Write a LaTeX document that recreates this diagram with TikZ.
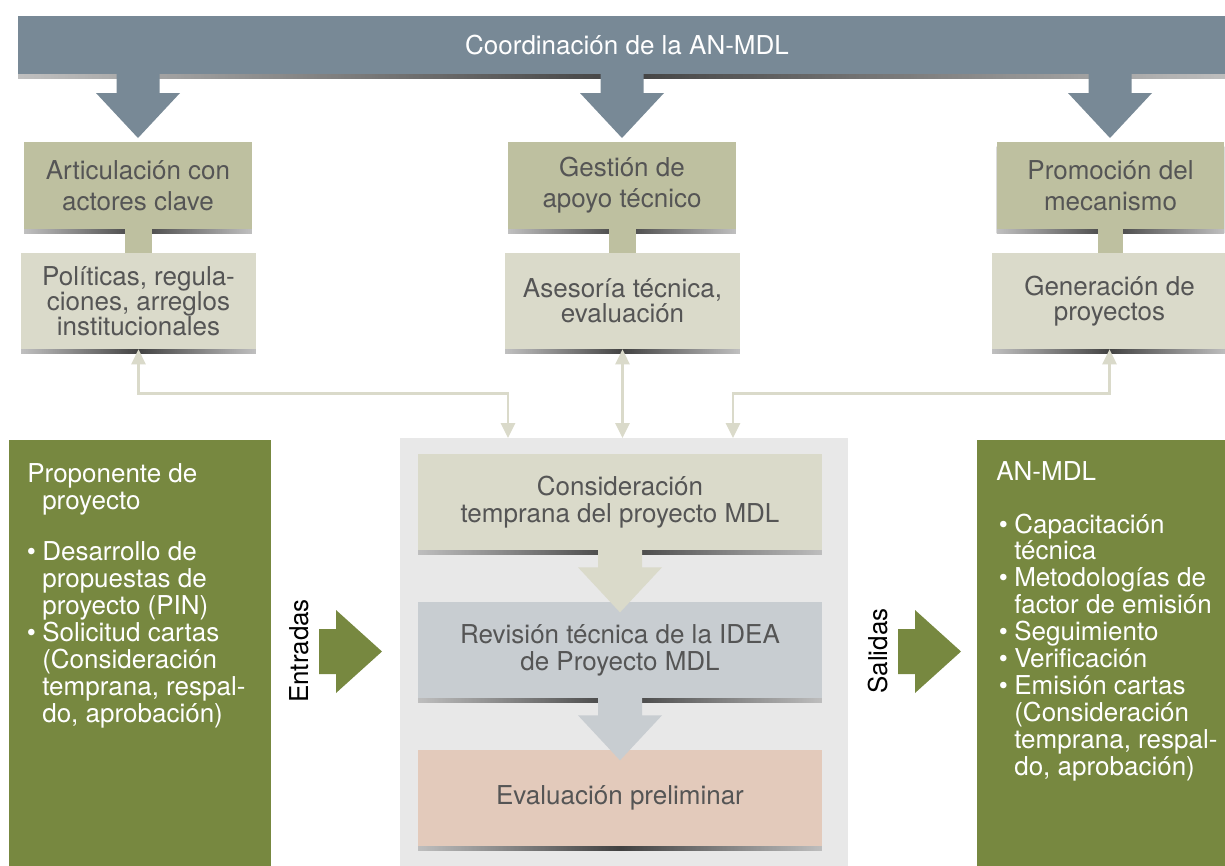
\documentclass[tikz,border=0pt]{standalone}
\usepackage{fontspec}
\setmainfont{TeX Gyre Heros}
\usepackage{xcolor}
\usetikzlibrary{positioning,calc,shadows,arrows.meta}
\definecolor{bannerc}{RGB}{120,137,150}
\definecolor{khaki}{RGB}{190,192,160}
\definecolor{pale}{RGB}{218,218,202}
\definecolor{panelbg}{RGB}{232,232,232}
\definecolor{review}{RGB}{200,205,209}
\definecolor{prelim}{RGB}{227,202,187}
\definecolor{olivec}{RGB}{119,136,64}
\definecolor{ink}{RGB}{85,85,85}
\newcommand{\dotitem}{\makebox[8.8pt][l]{\textbullet}}
\newcommand{\dotpad}{\hspace*{8.8pt}}

\begin{document}
\begin{tikzpicture}[
    x=0.02cm, y=-0.02cm,
    txt/.style={font=\fontsize{14.8}{15.3}\selectfont},
    lift/.style={drop shadow={shadow xshift=0pt,shadow yshift=-2.6pt,opacity=.7,left color=black!20,right color=black!20,middle color=black!90}},
    rolebox/.style={lift,fill=khaki,minimum width=4.56cm,minimum height=1.74cm,inner sep=0pt,align=center,text=ink,font=\fontsize{14.8}{17.6}\selectfont},
    taskbox/.style={lift,fill=pale,minimum width=4.7cm,minimum height=1.92cm,inner sep=0pt,align=center,text=ink,font=\fontsize{14.8}{14.2}\selectfont},
    stagebox/.style={lift,minimum width=8.08cm,minimum height=1.92cm,inner sep=0pt,align=center,text=ink,txt},
    sidetext/.style={txt,text=white,align=left,anchor=base west,inner sep=0pt},
    link/.style={draw=pale,line width=1.4pt,{Triangle[width=8pt,length=8.5pt]}-{Triangle[width=8pt,length=8.5pt]}}
  ]
    \fill[white] (0,0) rectangle (1225,866);
    \useasboundingbox (0,0) rectangle (1225,866);

    % coordination banner and its three arrows
    \node[lift,fill=bannerc,minimum width=24.36cm,minimum height=1.16cm,inner sep=0pt,text=white,txt] (coord) at (627,45) {Coordinación de la AN-MDL};
    \foreach \x in {138,622,1110} {
      \fill[bannerc] (\x-21.5,72) -- (\x+21.5,72) -- (\x+21.5,93) -- (\x+42,93) -- (\x,138) -- (\x-42,93) -- (\x-21.5,93) -- cycle;
    }

    \node[rolebox] (art) at (138,185.5) {Articulación con\\actores clave};
    \node[rolebox] (ges) at (622,185.5) {Gestión de\\apoyo técnico};
    \node[rolebox] (pro) at (1110.5,185.5) {Promoción del\\mecanismo};

    \node[taskbox] (pol) at (138.5,301) {Políticas, regula-\\ciones, arreglos\\institucionales};
    \node[taskbox] (ase) at (622.5,301) {Asesoría técnica,\\evaluación};
    \node[taskbox] (gen) at (1109.5,301) {Generación de\\proyectos};

    \foreach \a/\b in {art/pol,ges/ase,pro/gen} {
      \fill[khaki] ($(\a.south)+(-13,0)$) rectangle ($(\b.north)+(13,0)$);
    }

    % panels
    \node[fill=panelbg,minimum width=8.96cm,minimum height=8.56cm,inner sep=0pt] (flow) at (624,652) {};
    \node[fill=olivec,minimum width=5.24cm,minimum height=8.52cm,inner sep=0pt] (inputs) at (140,653) {};
    \node[fill=olivec,minimum width=4.96cm,minimum height=8.52cm,inner sep=0pt] (outputs) at (1101,653) {};

    \node[stagebox,fill=pale] (early) at (620,502) {Consideración\\temprana del proyecto MDL};
    \node[stagebox,fill=review] (revis) at (620,650) {Revisión técnica de la IDEA\\de Proyecto MDL};
    \node[stagebox,fill=prelim] (evalp) at (620,798) {Evaluación preliminar};
    \foreach \n/\c in {early/pale,revis/review} {
      \fill[\c] ($(\n.south)+(-22,-4)$) -- ++(44,0) -- ++(0,21) -- ++(20,0) -- ++(-42,45) -- ++(-42,-45) -- ++(20,0) -- cycle;
    }

    % links to the flow panel
    \coordinate (inL) at (508,438);
    \coordinate (inC) at (ase.south |- inL);
    \coordinate (inR) at (733,438);
    \draw[link] (pol.south) -- ++(0,44) -| (inL);
    \draw[link] (ase.south) -- (inC);
    \draw[link] (gen.south) -- ++(0,44) -| (inR);

    % inputs / outputs
    \foreach \x in {319,898} {
      \fill[olivec] (\x,629) -- (\x+17,629) -- (\x+17,610) -- (\x+63,651.5) -- (\x+17,693) -- (\x+17,674) -- (\x,674) -- cycle;
    }
    \node[txt,rotate=90] (entr) at (299,651) {Entradas};
    \node[txt,rotate=90] (sal) at (878.5,651) {Salidas};

    % base of a multi-line node = last line
    \node[sidetext] (propT) at (27,509) {Proponente de\\\hspace*{8.5pt}proyecto};
    \node[sidetext] (propL) at (26.5,722) {\dotitem Desarrollo de\\\dotpad propuestas de\\\dotpad proyecto (PIN)\\
      \dotitem Solicitud cartas\\\dotpad (Consideración\\\dotpad temprana, respal-\\\dotpad do, aprobación)};
    \node[sidetext] (anT) at (996,480) {AN-MDL};
    \node[sidetext] (anL) at (998.5,775) {\dotitem Capacitación\\\dotpad técnica\\\dotitem Metodologías de\\\dotpad factor de emisión\\
      \dotitem Seguimiento\\\dotitem Verificación\\\dotitem Emisión cartas\\\dotpad (Consideración\\\dotpad temprana, respal-\\\dotpad do, aprobación)};
  \end{tikzpicture}
\end{document}
